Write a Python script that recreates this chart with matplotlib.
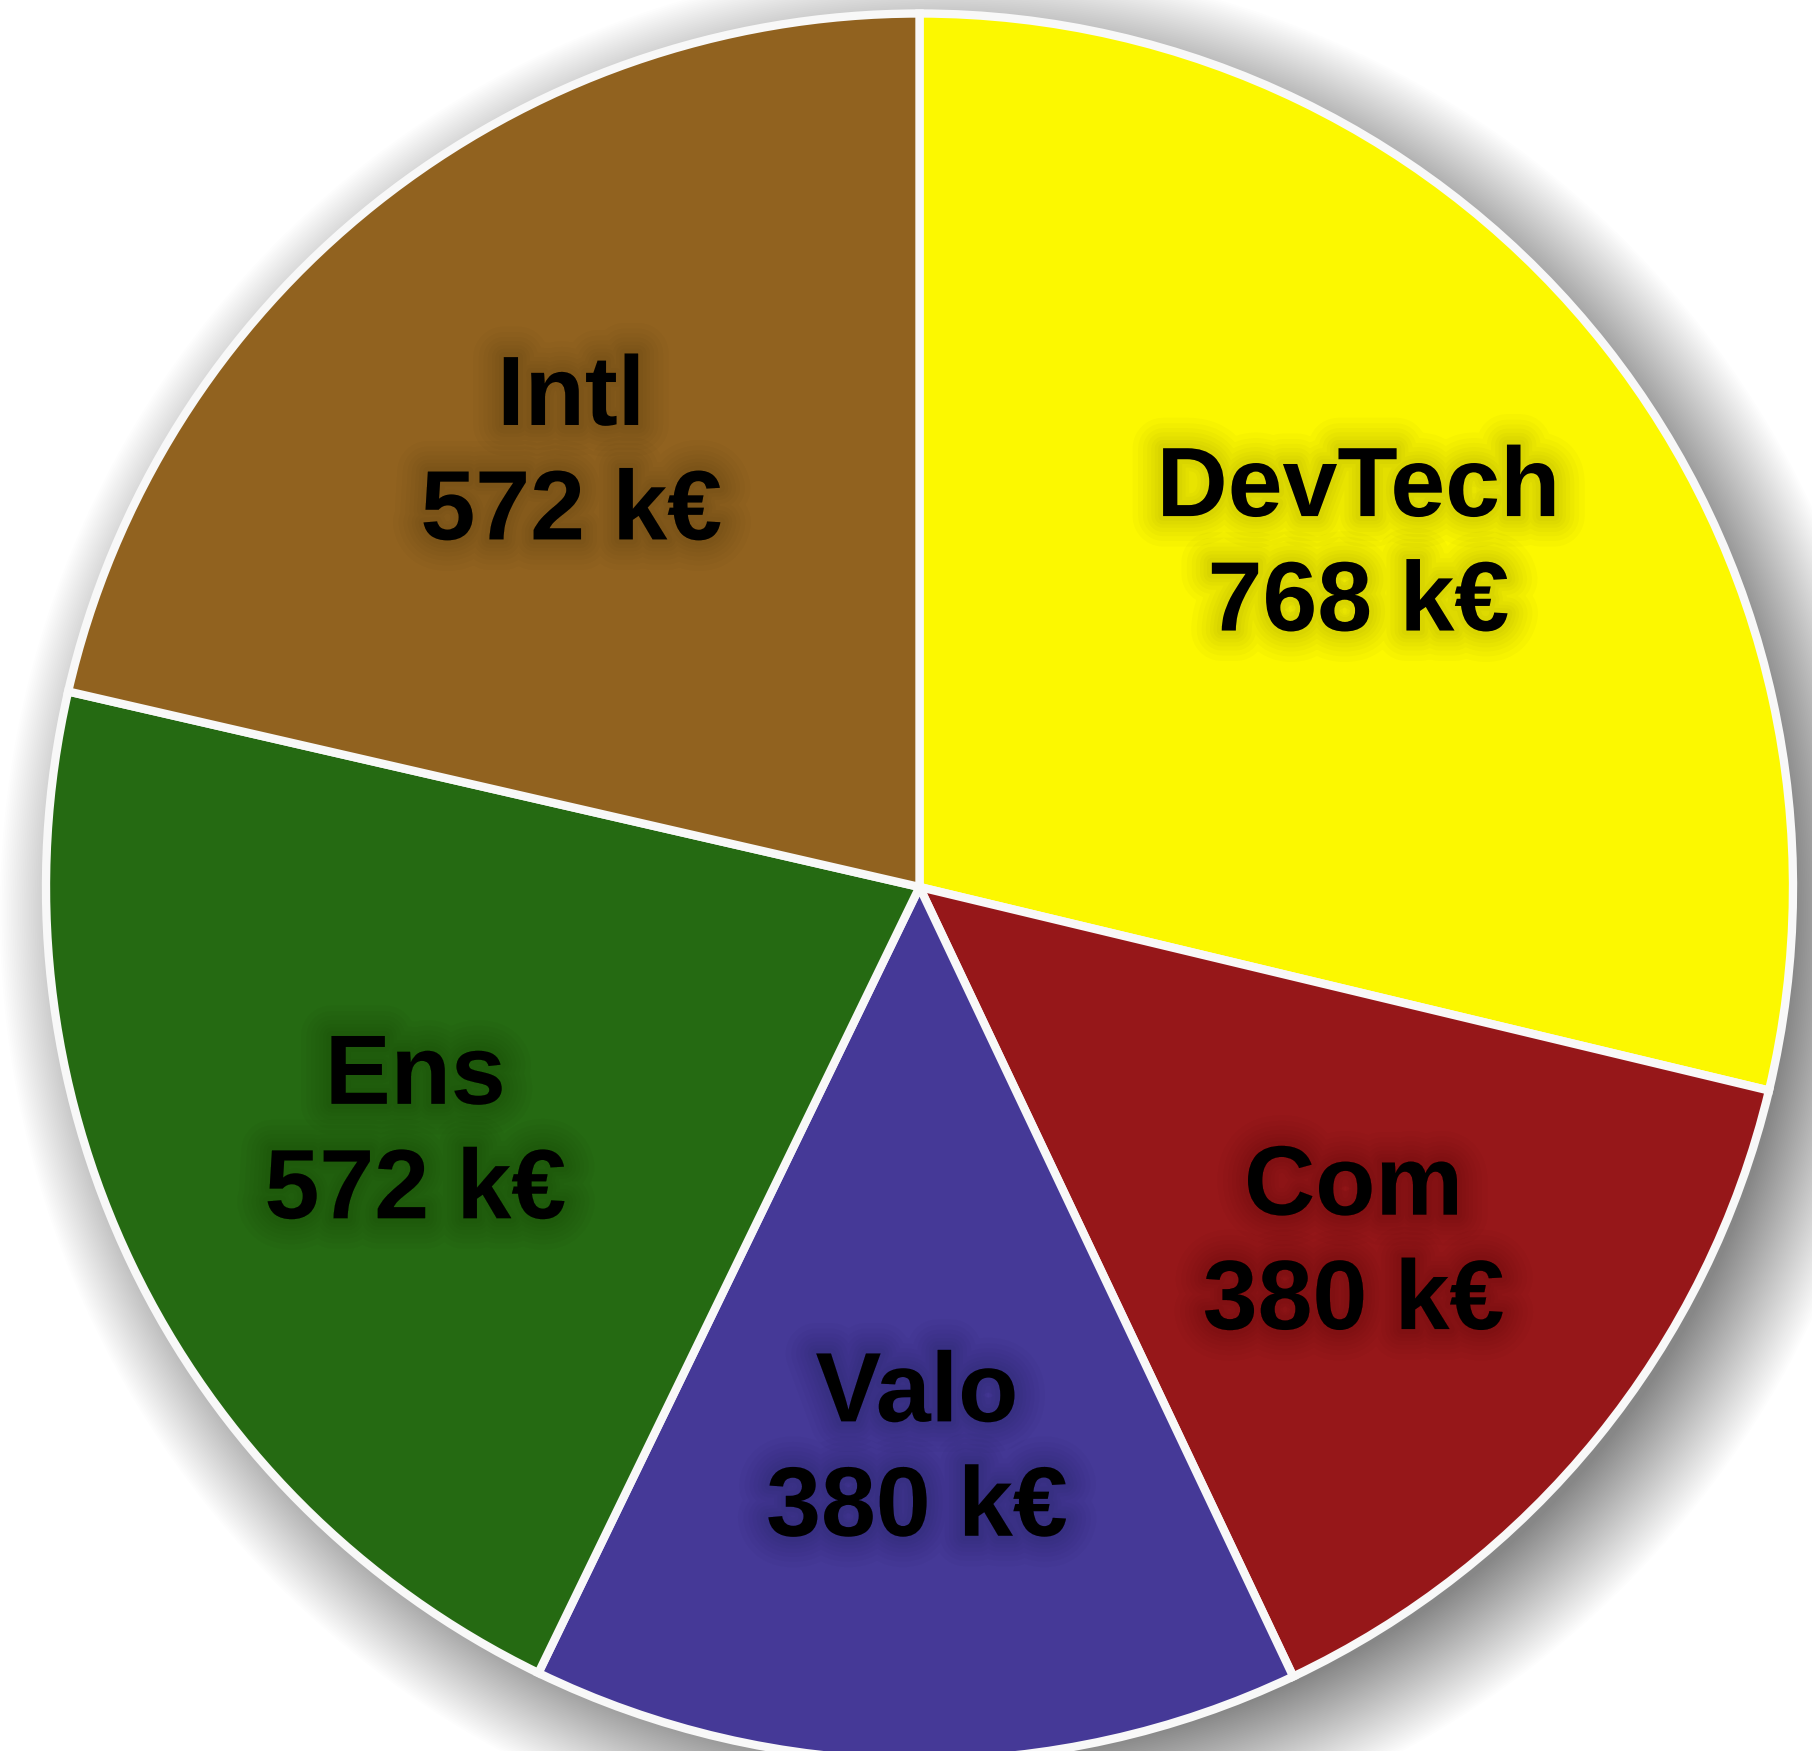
import matplotlib.pyplot as plt
import matplotlib.patheffects as pe
import matplotlib.transforms as mtransforms
from matplotlib.patches import Circle

categories = ['DevTech', 'Com', 'Valo', 'Ens', 'Intl']
values = [768, 380, 380, 572, 572]
colors = ['#FCF800', '#961719', '#453997', '#256A12', '#91621F']
labels = ['{}\n{} k€'.format(c, v) for c, v in zip(categories, values)]

W, H = 1812, 1751
cx_px, cy_px, r_px = 919.5, 887, 873.5

fig = plt.figure(figsize=(W / 100, H / 100), dpi=100)
ax = fig.add_axes([0, 0, 1, 1])
ax.set_aspect('equal')
ax.axis('off')

# soft drop shadow behind the pie
px = 1 / r_px
n = 60
for i in range(n):
    rad = 1 - 30 * px + i * 110 * px / n
    ax.add_patch(Circle((32 * px, -26 * px), rad, facecolor='black',
                        edgecolor='none', alpha=0.009, zorder=0))

glow = [pe.Stroke(linewidth=w, foreground='black', alpha=0.02)
        for w in (44, 36, 29, 23, 17, 12, 7)]
glow.append(pe.Normal())

wedges, texts = ax.pie(values, labels=labels, colors=colors, startangle=90,
                       counterclock=False, radius=1, labeldistance=0.64,
                       wedgeprops=dict(edgecolor='#F8F8F8', linewidth=6),
                       textprops=dict(fontsize=71, fontweight='bold',
                                      family='Liberation Sans', color='black',
                                      ha='center', va='center',
                                      multialignment='center',
                                      linespacing=1.33))
# nudge labels slightly down
shift = mtransforms.ScaledTranslation(0, -0.07, fig.dpi_scale_trans)
for w in wedges:
    w.set_zorder(2)
for t in texts:
    t.set_zorder(3)
    t.set_path_effects(glow)
    t.set_transform(t.get_transform() + shift)

ax.set_xlim(-cx_px / r_px, (W - cx_px) / r_px)
ax.set_ylim(-(H - cy_px) / r_px, cy_px / r_px)

fig.savefig('out.png', dpi=100, facecolor='white')
